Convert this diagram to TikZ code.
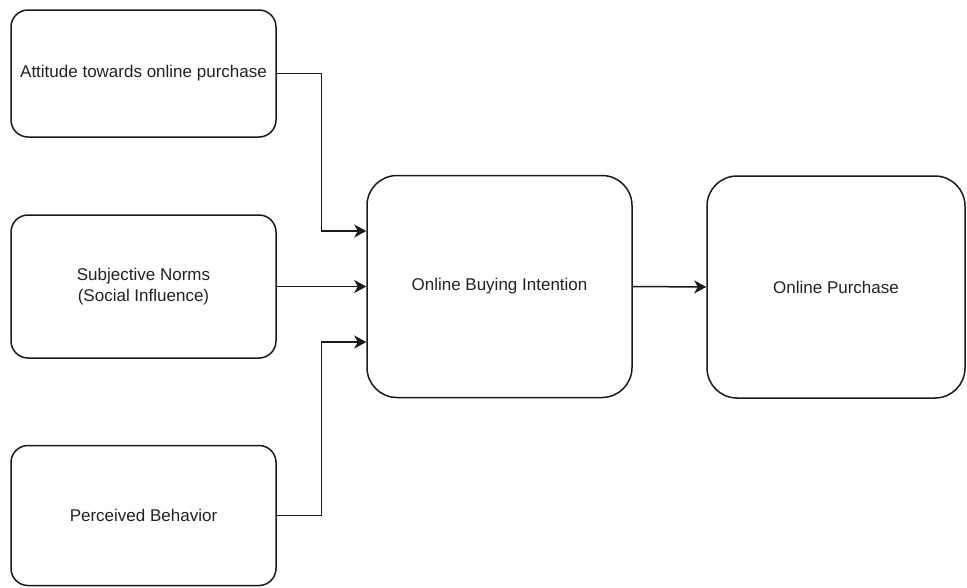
\documentclass[tikz,border=0pt]{standalone}
\usepackage{fontspec}
\setmainfont{Liberation Sans}
\usepackage{xcolor}
\usetikzlibrary{arrows.meta}
\definecolor{vdarkgray}{HTML}{1a1a1a}
\definecolor{vtext}{HTML}{222222}

\tikzset{
	box/.style={draw=vdarkgray, line width=1.5pt, rectangle, text=vtext, align=center, font=\fontsize{17}{21}\selectfont, inner sep=0pt},
	flow/.style={draw=vdarkgray, line width=1.5pt, arrows={-Stealth[length=12pt, width=13pt, inset=3.5pt]}}
}

\begin{document}
\begin{tikzpicture}[x=1pt, y=-1pt]
		\useasboundingbox (0,0) rectangle (967,587);
		\node[box, rounded corners=17pt, minimum width=265pt, minimum height=127pt] (attitude) at (143.5,73.5) {Attitude towards online purchase};
		\node[box, rounded corners=17pt, minimum width=265pt, minimum height=143pt] (norms) at (143.5,286.5) {Subjective Norms\\(Social Influence)};
		\node[box, rounded corners=17pt, minimum width=265pt, minimum height=140pt] (behavior) at (143.5,515.5) {Perceived Behavior};
		\node[box, rounded corners=30pt, minimum width=265pt, minimum height=222pt] (intention) at (499.5,286.5) {Online Buying Intention};
		\node[box, rounded corners=30pt, minimum width=258pt, minimum height=222pt] (purchase) at (836,287) {Online Purchase};
		\coordinate (A) at ([yshift=55.5pt]intention.west);
		\coordinate (C) at ([yshift=-55.5pt]intention.west);
		\draw[flow] (attitude.east) -- (321.5,73.5) |- (A);
		\draw[flow] (norms.east) -- (intention.west);
		\draw[flow] (behavior.east) -- (321.5,515.5) |- (C);
		\draw[flow] (intention.east) -- (purchase.west);
	\end{tikzpicture}
\end{document}
